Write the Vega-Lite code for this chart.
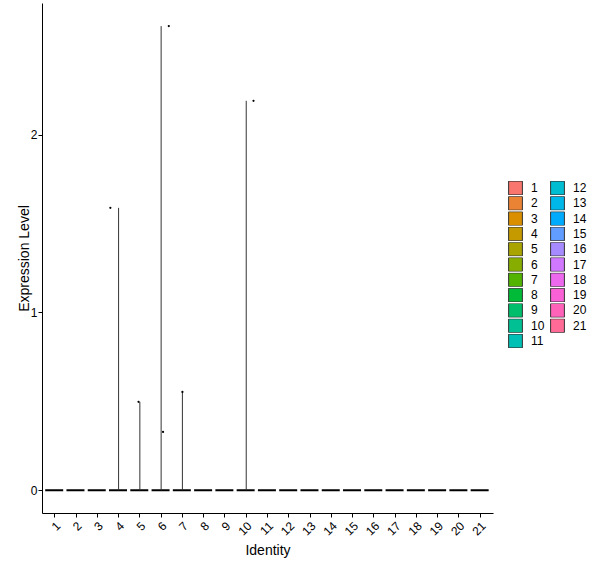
{
  "$schema": "https://vega.github.io/schema/vega-lite/v6.json",
  "width": 451,
  "height": 510,
  "padding": {"top": 3, "left": 17, "right": 5, "bottom": 5},
  "background": "white",
  "config": {
    "view": {"stroke": null},
    "font": "Liberation Sans",
    "axis": {
      "grid": false,
      "domainColor": "black",
      "domainWidth": 1,
      "tickColor": "black",
      "tickSize": 4,
      "labelColor": "black",
      "labelFontSize": 12,
      "labelFont": "Liberation Sans",
      "titleFont": "Liberation Sans",
      "titleFontSize": 14,
      "titleFontWeight": "normal",
      "titleColor": "black"
    }
  },
  "datasets": {
    "violins": [
      {"id": "1", "min": 0, "max": 0},
      {"id": "2", "min": 0, "max": 0},
      {"id": "3", "min": 0, "max": 0},
      {"id": "4", "min": 0, "max": 1.588},
      {"id": "5", "min": 0, "max": 0.497},
      {"id": "6", "min": 0, "max": 2.61},
      {"id": "7", "min": 0, "max": 0.553},
      {"id": "8", "min": 0, "max": 0},
      {"id": "9", "min": 0, "max": 0},
      {"id": "10", "min": 0, "max": 2.19},
      {"id": "11", "min": 0, "max": 0},
      {"id": "12", "min": 0, "max": 0},
      {"id": "13", "min": 0, "max": 0},
      {"id": "14", "min": 0, "max": 0},
      {"id": "15", "min": 0, "max": 0},
      {"id": "16", "min": 0, "max": 0},
      {"id": "17", "min": 0, "max": 0},
      {"id": "18", "min": 0, "max": 0},
      {"id": "19", "min": 0, "max": 0},
      {"id": "20", "min": 0, "max": 0},
      {"id": "21", "min": 0, "max": 0}
    ],
    "points": [
      {"id": "4", "value": 1.588, "jitter": -0.43},
      {"id": "5", "value": 0.497, "jitter": -0.07},
      {"id": "6", "value": 0.328, "jitter": 0.1},
      {"id": "6", "value": 2.61, "jitter": 0.4},
      {"id": "7", "value": 0.553, "jitter": 0.0},
      {"id": "10", "value": 2.19, "jitter": 0.38}
    ]
  },
  "encoding": {
    "x": {
      "field": "id",
      "type": "nominal",
      "sort": ["1","2","3","4","5","6","7","8","9","10","11","12","13","14","15","16","17","18","19","20","21"],
      "scale": {"paddingInner": 0.1, "paddingOuter": 0.15},
      "axis": {"title": "Identity", "labelAngle": -45, "labelAlign": "right", "labelBaseline": "top", "labelPadding": 3, "titlePadding": 6}
    }
  },
  "layer": [
    {
      "data": {"name": "violins"},
      "mark": {"type": "bar", "stroke": "black", "strokeWidth": 2},
      "encoding": {
        "y": {
          "field": "min",
          "type": "quantitative",
          "scale": {"domain": [-0.128, 2.74], "nice": false, "zero": false},
          "axis": {"title": "Expression Level", "values": [0, 1, 2], "format": "d", "labelPadding": 1, "titlePadding": -1}
        },
        "y2": {"field": "min"},
        "fill": {
          "field": "id",
          "type": "nominal",
          "scale": {
            "domain": ["1","2","3","4","5","6","7","8","9","10","11","12","13","14","15","16","17","18","19","20","21"],
            "range": ["#F8766D","#EB8334","#DA8F00","#C49A00","#A9A400","#86AD00","#52B400","#00BA38","#00BE6C","#00C094","#00C0B5","#00BDD2","#00B7EA","#00ABFD","#619CFF","#A68AFF","#D078FF","#EC69EE","#FB61D6","#FF62B9","#FF6B96"]
          },
          "legend": {
            "title": null,
            "orient": "none",
            "legendX": 466,
            "legendY": 178,
            "columns": 2,
            "symbolType": "square",
            "symbolSize": 190,
            "symbolStrokeColor": "#333333",
            "symbolStrokeWidth": 1,
            "symbolOpacity": 1,
            "labelFontSize": 12,
            "labelFont": "Liberation Sans",
            "labelColor": "black",
            "labelOffset": 8,
            "clipHeight": 14,
            "rowPadding": 1.3,
            "columnPadding": 5
          }
        }
      }
    },
    {
      "data": {"name": "violins"},
      "transform": [{"filter": "datum.max > 0"}],
      "mark": {"type": "rule", "color": "#333333", "strokeWidth": 1},
      "encoding": {
        "y": {"field": "min", "type": "quantitative"},
        "y2": {"field": "max"}
      }
    },
    {
      "data": {"name": "points"},
      "mark": {"type": "circle", "color": "black", "opacity": 1, "size": 5},
      "encoding": {
        "y": {"field": "value", "type": "quantitative"},
        "xOffset": {"field": "jitter", "type": "quantitative", "scale": {"domain": [-0.5, 0.5]}}
      }
    }
  ]
}
